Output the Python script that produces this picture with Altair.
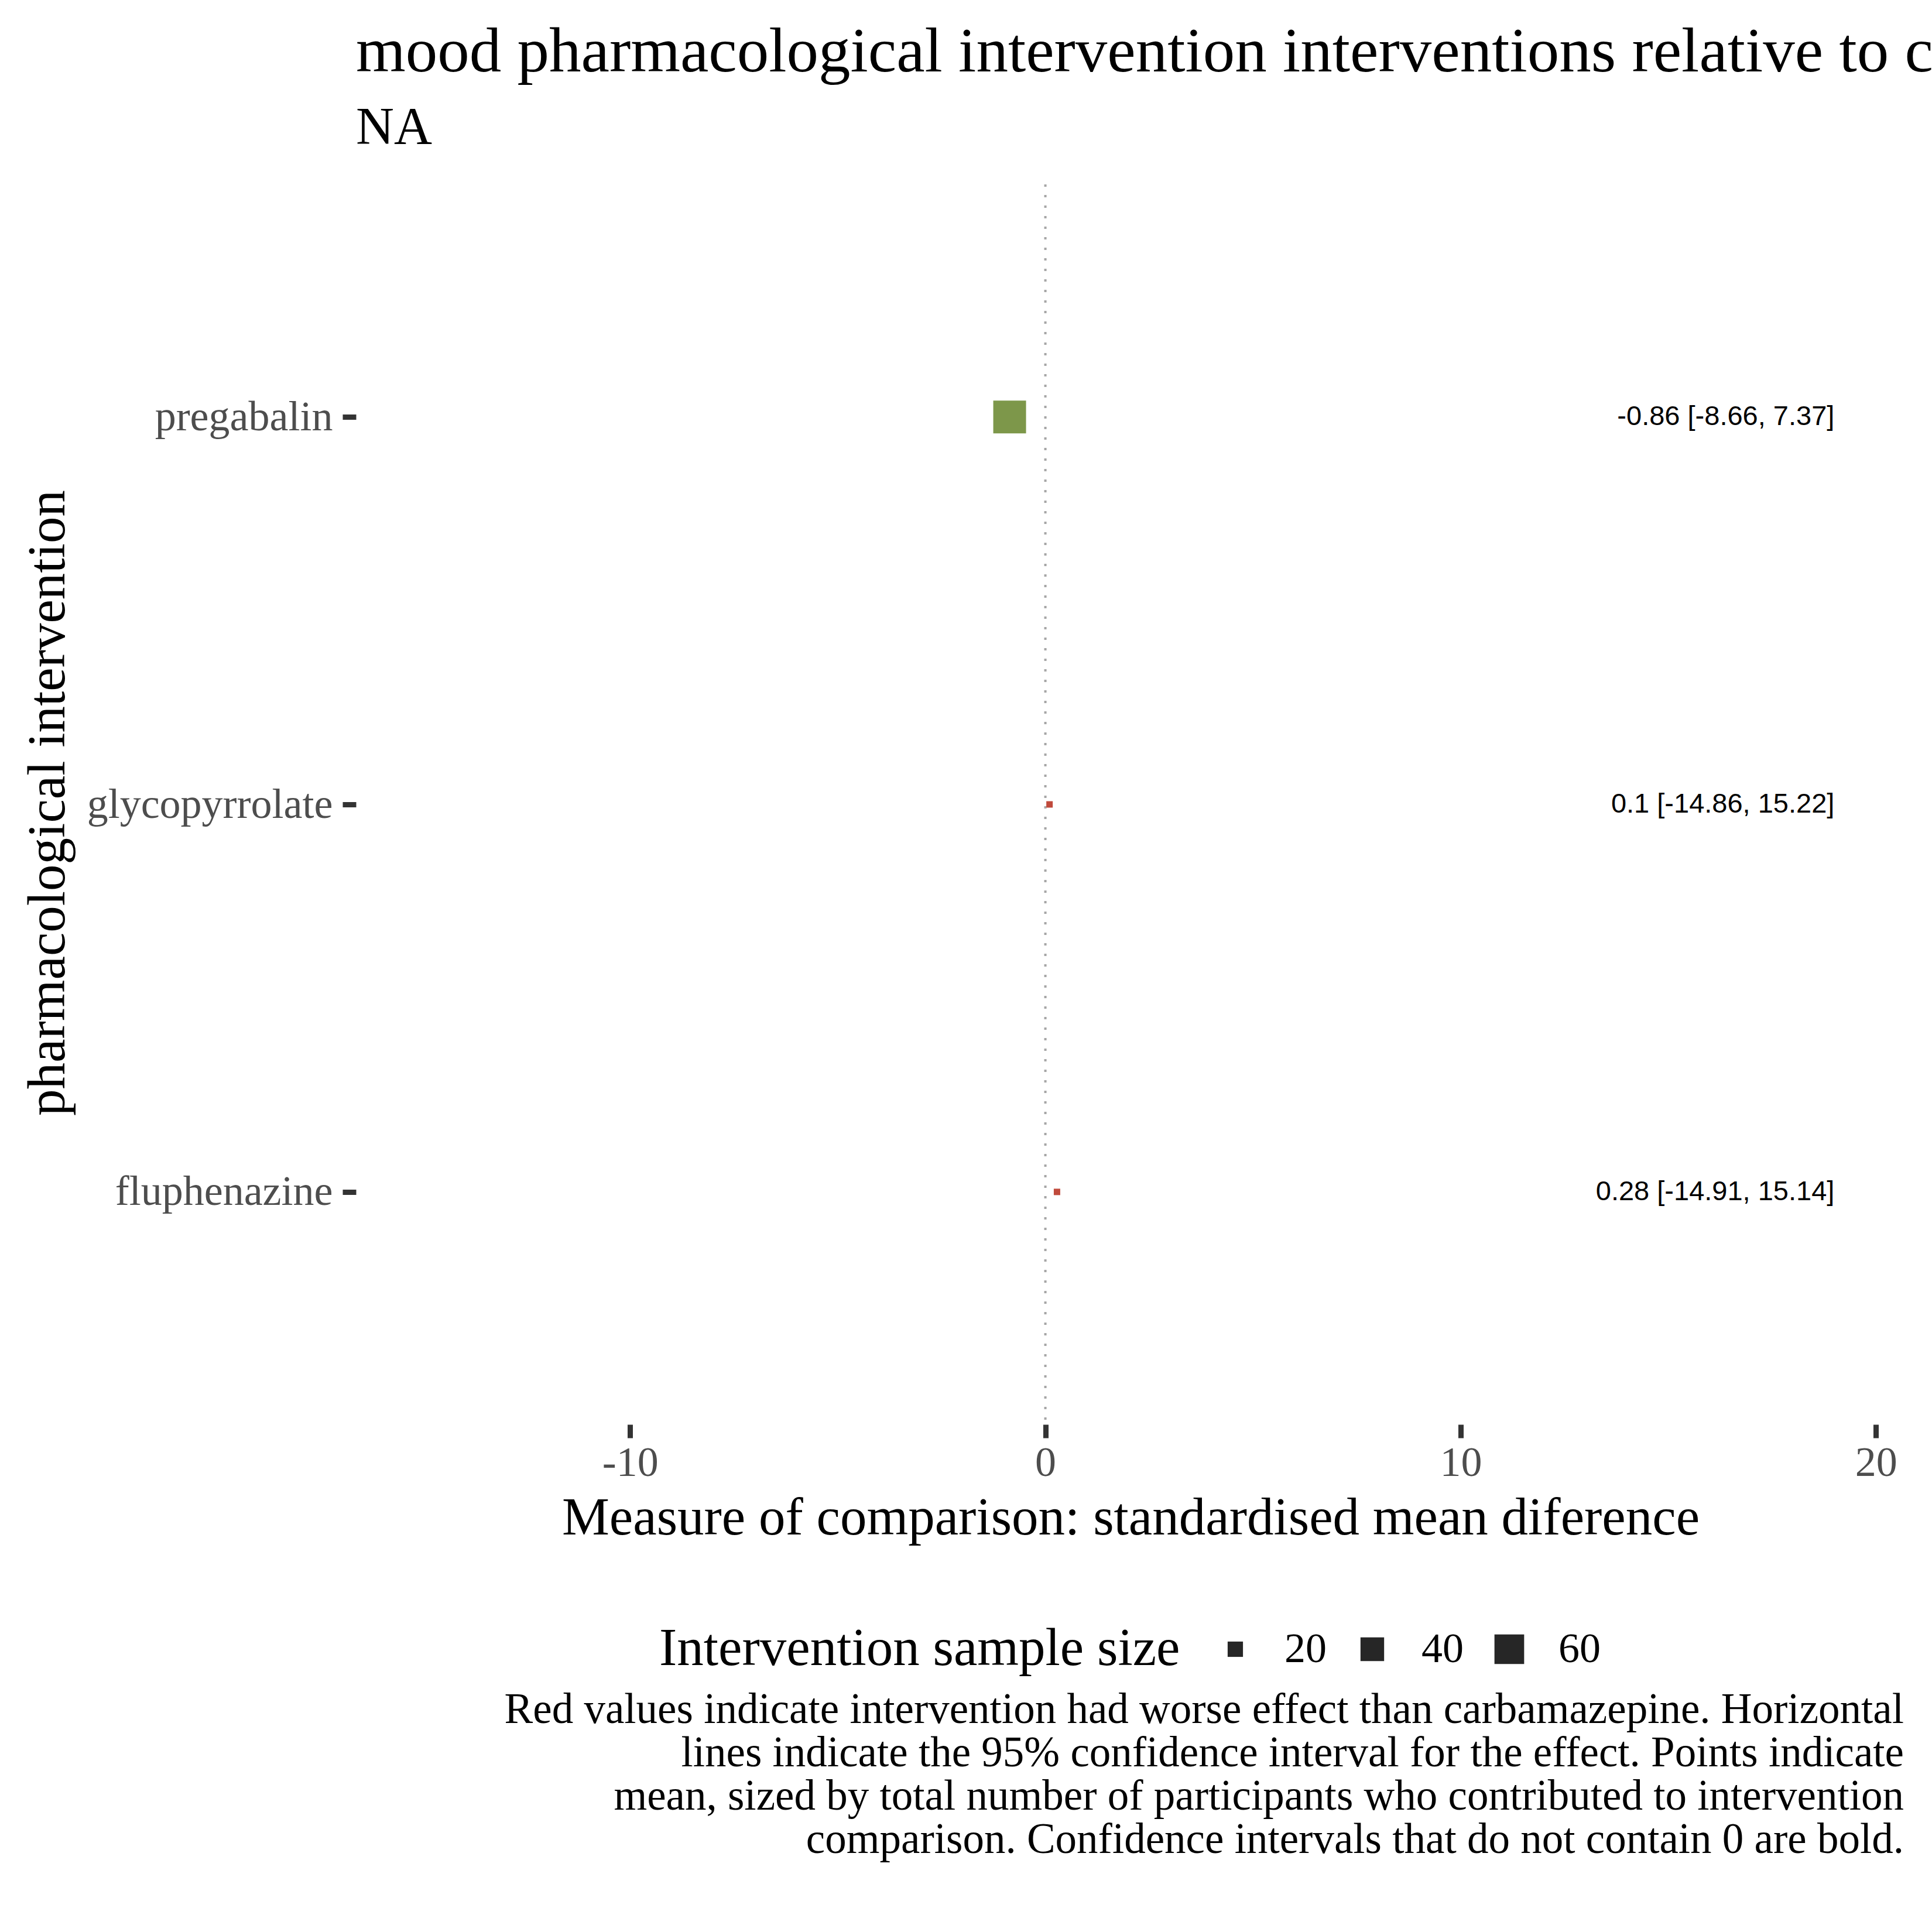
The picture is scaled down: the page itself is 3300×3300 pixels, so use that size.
import altair as alt
import pandas as pd

# ---- data ----
interventions = ["pregabalin", "glycopyrrolate", "fluphenazine"]
means = [-0.86, 0.10, 0.28]
ci_low = [-8.66, -14.86, -14.91]
ci_high = [7.37, 15.22, 15.14]
sample_sizes = [72, 8, 8]
effect = ["better", "worse", "worse"]
ci_labels = ["-0.86 [-8.66, 7.37]", "0.1 [-14.86, 15.22]", "0.28 [-14.91, 15.14]"]
x_ticks = [-10, 0, 10, 20]
legend_values = [20, 40, 60]
reference_value = [0]

title_text = "mood pharmacological intervention interventions relative to carbamazepine"
subtitle_text = "NA"
caption_lines = [
    "Red values indicate intervention had worse effect than carbamazepine. Horizontal",
    "lines indicate the 95% confidence interval for the effect. Points indicate",
    "mean, sized by total number of participants who contributed to intervention",
    "comparison. Confidence intervals that do not contain 0 are bold.",
]

df = pd.DataFrame({
    "intervention": interventions,
    "mean": means,
    "lo": ci_low,
    "hi": ci_high,
    "n": sample_sizes,
    "effect": effect,
    "label": ci_labels,
})
ref_df = pd.DataFrame({"x0": reference_value})
cap_df = pd.DataFrame({"caption": ["\n".join(caption_lines)]})

SERIF = "Liberation Serif"
SANS = "Liberation Sans"

x_scale = alt.Scale(domain=[-16.6, 20.7], nice=False, zero=False)
y_scale = alt.Scale(type="point", padding=0.6)

x_axis = alt.Axis(
    title="Measure of comparison: standardised mean diference",
    values=x_ticks, labelExpr="'' + datum.value", labelPadding=7, titlePadding=14,
)
y_axis = alt.Axis(
    title="pharmacological intervention", labelPadding=17,
    titleX=-499, titleY=1056, titleAngle=270, titleAlign="center",
    titleBaseline="alphabetic",
)

y_enc = alt.Y("intervention:N", sort=interventions, scale=y_scale, axis=y_axis)

zero_rule = alt.Chart(ref_df).mark_rule(
    color="#a6a6a6", strokeWidth=4, strokeDash=[4, 14]
).encode(x=alt.X("x0:Q", scale=x_scale, axis=x_axis))

points = alt.Chart(df).mark_square(opacity=1, strokeWidth=0).encode(
    x=alt.X("mean:Q", scale=x_scale, axis=x_axis),
    y=y_enc,
    size=alt.Size(
        "n:Q",
        scale=alt.Scale(domain=[8, 72], range=[121, 3136], zero=False),
        legend=alt.Legend(
            title="Intervention sample size",
            values=legend_values,
            orient="none",
            legendX=518,
            legendY=2466,
            direction="horizontal",
            titleOrient="left",
            titleFont=SERIF,
            titleFontSize=91,
            titleFontWeight="normal",
            titleColor="black",
            titleLimit=3000,
            titleBaseline="middle",
            titlePadding=58,
            labelFont=SERIF,
            labelFontSize=72,
            labelColor="black",
            labelOffset=48,
            labelLimit=500,
            columnPadding=42,
            symbolType="square",
            symbolFillColor="#262626",
            symbolStrokeColor="#262626",
            symbolStrokeWidth=0,
            symbolOpacity=1,
        ),
    ),
    color=alt.Color(
        "effect:N",
        scale=alt.Scale(domain=["better", "worse"], range=["#7d974a", "#c04a3c"]),
        legend=None,
    ),
)

value_text = alt.Chart(df).mark_text(
    align="right", baseline="middle", font=SANS, fontSize=47, color="black"
).encode(
    x=alt.datum(19),
    y=y_enc,
    text="label:N",
)

caption = alt.Chart(cap_df).mark_text(
    align="right", baseline="alphabetic", font=SERIF, fontSize=73,
    lineBreak="\n", lineHeight=74, color="black",
).encode(
    x=alt.value(2644),
    y=alt.value(2628),
    text="caption:N",
)

chart = alt.layer(zero_rule, points, value_text, caption).properties(
    width=2646,
    height=2118,
    background="white",
    title=alt.TitleParams(
        text=title_text,
        subtitle=subtitle_text,
        anchor="start",
        frame="group",
        font=SERIF,
        fontSize=109,
        fontWeight="normal",
        color="black",
        subtitleFont=SERIF,
        subtitleFontSize=90,
        subtitleColor="black",
        subtitlePadding=30,
        offset=48,
        limit=0,
    ),
    autosize=alt.AutoSizeParams(type="none"),
    padding={"left": 608, "top": 315, "right": 46, "bottom": 867},
).configure_view(
    stroke=None
).configure_axis(
    labelFont=SERIF,
    labelFontSize=72,
    labelColor="#4d4d4d",
    tickColor="#333333",
    tickWidth=9,
    tickSize=23,
    domain=False,
    grid=False,
    titleFont=SERIF,
    titleFontSize=91,
    titleFontWeight="normal",
    titleColor="black",
    labelLimit=1000,
    titleLimit=3000,
)

chart.save("out.html", embed_options={"renderer": "svg", "actions": False})
